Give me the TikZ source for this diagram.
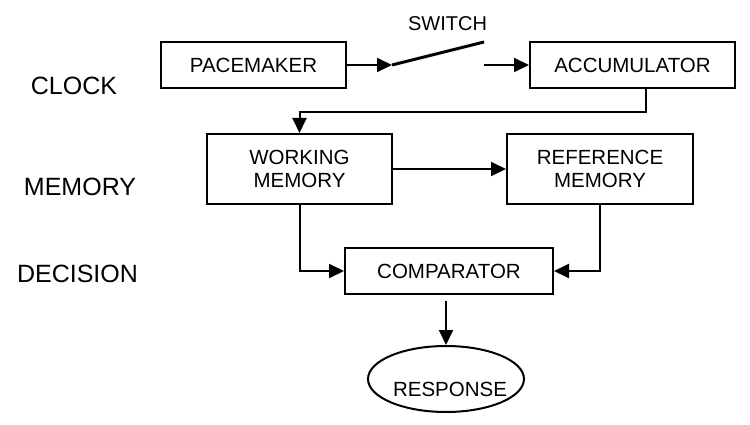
\documentclass[tikz,border=0pt]{standalone}
\usepackage{fontspec}
\setmainfont{Liberation Sans}
\usetikzlibrary{arrows.meta,shapes.geometric}
\begin{document}
\begin{tikzpicture}[x=1pt,y=-1pt,
  box/.style={draw,line width=2pt,rectangle,inner sep=0pt,align=center,
    font=\fontsize{20.5}{23}\selectfont},
  lvl/.style={font=\fontsize{25}{28}\selectfont,inner sep=0pt},
  arr/.style={line width=2pt,-{Triangle[length=15pt,width=14pt]}},
  conn/.style={line width=2pt}]
\useasboundingbox (0,0) rectangle (750,425);
% level labels
\node[lvl] (clock) at (74,86) {CLOCK};
\node[lvl] (memory) at (80,186.5) {MEMORY};
\node[lvl] (decision) at (77.5,274) {DECISION};
% boxes
\node[box,minimum width=185pt,minimum height=46pt] (pace) at (253.5,65) {PACEMAKER};
\node[box,minimum width=205pt,minimum height=46pt] (acc) at (632.5,65) {ACCUMULATOR};
\node[box,minimum width=185pt,minimum height=70pt] (work) at (299.5,169) {WORKING\\MEMORY};
\node[box,minimum width=186pt,minimum height=70pt] (ref) at (600,169) {REFERENCE\\MEMORY};
\node[box,minimum width=208pt,minimum height=46pt] (comp) at (449,271) {COMPARATOR};
\node[draw,ellipse,line width=2pt,minimum width=156pt,minimum height=66pt,inner sep=0pt] (resp) at (446,379) {};
\node[font=\fontsize{20.5}{23}\selectfont,inner sep=0pt] (resptext) at (450,389) {RESPONSE};
% switch
\node[font=\fontsize{20}{23}\selectfont,inner sep=0pt] (swlabel) at (447.5,23.5) {SWITCH};
\coordinate (sw1) at (392,65);
\coordinate (sw2) at (484,42);
\coordinate (sw3) at (484,65);
\draw[arr] (pace.east) -- (sw1);
\draw[line width=3pt] (sw1) -- (sw2);
\draw[arr] (sw3) -- (acc.west);
% connectors
\coordinate (b1) at (646,112);
\draw[arr] (acc.south -| b1) -- (b1) -| (work.north);
\draw[arr] (work.east) -- (ref.west);
\draw[arr] (work.south) |- (comp.west);
\draw[arr] (ref.south) |- (comp.east);
\draw[arr,shorten <=6pt] (comp.south -| resp.north) -- (resp.north);
\end{tikzpicture}
\end{document}
